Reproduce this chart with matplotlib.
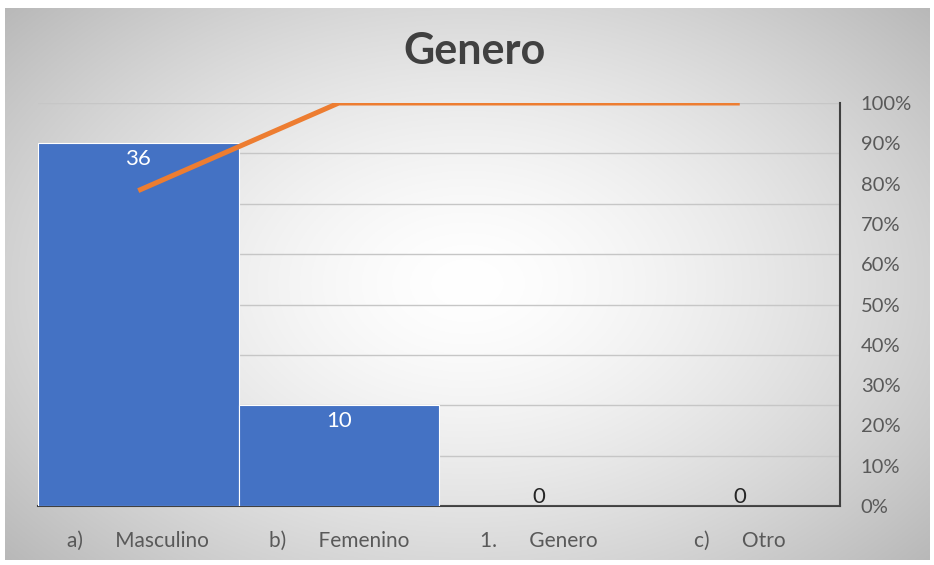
import numpy as np
import matplotlib.pyplot as plt
from matplotlib.ticker import PercentFormatter, MultipleLocator

categories = ["a)      Masculino", "b)      Femenino", "1.      Genero", "c)      Otro"]
counts = [36, 10, 0, 0]
cumulative_pct = [78.26, 100, 100, 100]
pct_ticks = [0, 10, 20, 30, 40, 50, 60, 70, 80, 90, 100]

plt.rcParams['font.family'] = ['Lato', 'DejaVu Sans']

fig = plt.figure(figsize=(9.34, 5.65), dpi=100)

# gradient background
bg = fig.add_axes([0.005, 0.008, 0.99, 0.978])
yy, xx = np.mgrid[-1:1:300j, -1:1:500j]
r = np.sqrt((xx * 0.9) ** 2 + (yy * 0.8) ** 2)
g = 1.0 - 0.21 * np.clip(r, 0, 1.3) ** 1.5
img = np.dstack([g, g, g])
bg.imshow(np.clip(img, 0, 1), aspect='auto', extent=[0, 1, 0, 1])
bg.axis('off')

left, right = 38 / 934, 840 / 934
bottom, top = (565 - 506) / 565, (565 - 103) / 565
ax = fig.add_axes([left, bottom, right - left, top - bottom])
ax.patch.set_alpha(0)

x = np.arange(len(categories))
bars = ax.bar(x, counts, width=1.0, color='#4472C4', edgecolor='white', linewidth=0.8, zorder=3)
ax.set_xlim(-0.5, len(categories) - 0.5)
ax.set_ylim(0, 40)
ax.yaxis.set_major_locator(MultipleLocator(5))
ax.grid(axis='y', color='#c6c6c6', linewidth=1.0, zorder=0)
ax.set_yticklabels([])
ax.tick_params(axis='y', length=0)
ax.set_xticks(x)
ax.set_xticklabels(categories, fontsize=15, color='#595959')
ax.tick_params(axis='x', length=0, pad=18)
for s in ['top', 'left', 'right']:
    ax.spines[s].set_visible(False)
ax.spines['bottom'].set_color('#404040')
ax.spines['bottom'].set_linewidth(1.5)

for xi, v in zip(x, counts):
    if v > 0:
        ax.text(xi, v - 1.6, str(v), ha='center', va='center', color='white', fontsize=16, zorder=5)
    else:
        ax.text(xi, v + 0.9, str(v), ha='center', va='center', color='#262626', fontsize=16, zorder=5)

ax2 = ax.twinx()
ax2.plot(x, cumulative_pct, color='#ED7D31', linewidth=3.6, solid_capstyle='butt', zorder=6)
ax2.set_ylim(0, 100)
ax2.set_yticks(pct_ticks)
ax2.yaxis.set_major_formatter(PercentFormatter(decimals=0))
ax2.tick_params(axis='y', length=0, pad=15, labelsize=14.5, labelcolor='#595959')
for s in ['top', 'left', 'bottom']:
    ax2.spines[s].set_visible(False)
ax2.spines['right'].set_color('#404040')
ax2.spines['right'].set_linewidth(1.5)

fig.text(0.508, 0.91, "Genero", ha='center', va='center', fontsize=31, fontweight='bold', color='#404040')

fig.savefig('out.png', dpi=100)
